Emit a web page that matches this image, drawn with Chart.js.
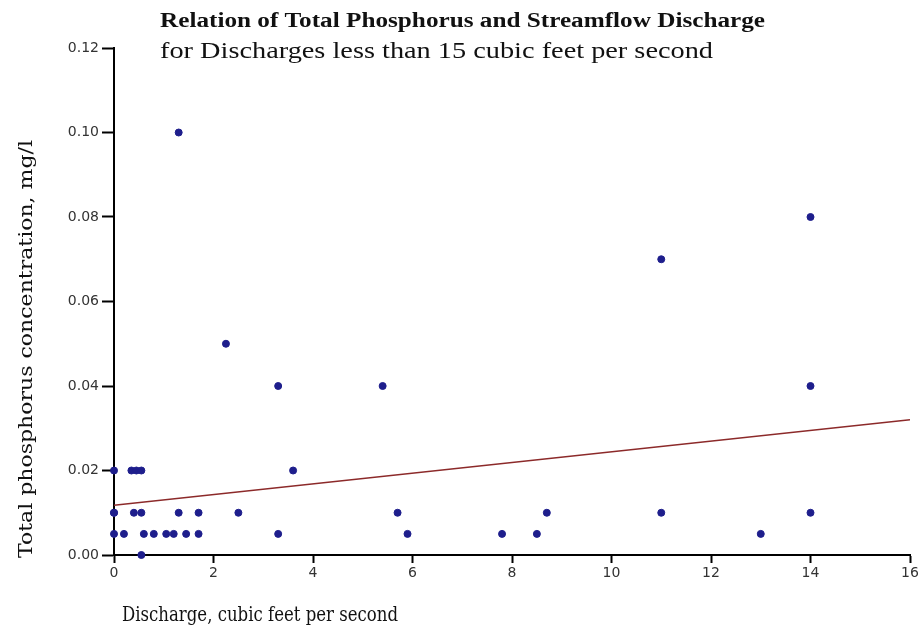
<!DOCTYPE html>
<html>
<head>
<meta charset="utf-8">
<script src="https://cdn.jsdelivr.net/npm/chart.js@4.4.0/dist/chart.umd.min.js"></script>
<style>
  html, body { margin: 0; background: #fff; }
  #wrap { width: 924px; height: 633px; }
</style>
</head>
<body>
<div id="wrap"><canvas id="grafico"></canvas></div>
<script>
"use strict";

// Amostras: descarga (cfs) e fósforo total (mg/l)
const DESCARGA = [
  1.3, 14, 11, 2.25, 3.3, 5.4, 14,
  0, 0.35, 0.45, 0.55, 3.6,
  0, 0, 0.4, 0.55, 1.3, 1.7, 2.5, 5.7, 8.7, 11, 14,
  0, 0.2, 0.6, 0.8, 1.05, 1.2, 1.45, 1.7, 3.3, 5.9, 7.8, 8.5, 13,
  0.55,
];
const FOSFORO = [
  0.10, 0.08, 0.07, 0.05, 0.04, 0.04, 0.04,
  0.02, 0.02, 0.02, 0.02, 0.02,
  0.01, 0.01, 0.01, 0.01, 0.01, 0.01, 0.01, 0.01, 0.01, 0.01, 0.01,
  0.005, 0.005, 0.005, 0.005, 0.005, 0.005, 0.005, 0.005, 0.005, 0.005, 0.005, 0.005, 0.005,
  0.0,
];

// Reta de regressão (extremos)
const RETA_X = [0, 16];
const RETA_Y = [0.0118, 0.032];

const TICKS_X = [0, 2, 4, 6, 8, 10, 12, 14, 16];
const TICKS_Y = [0, 0.02, 0.04, 0.06, 0.08, 0.10, 0.12];

const TITULO = "Relation of Total Phosphorus and Streamflow Discharge";
const SUBTITULO = "for Discharges less than 15 cubic feet per second";
const TITULO_X = "Discharge, cubic feet per second";
const TITULO_Y = "Total phosphorus concentration, mg/l";

/** Escreve um texto esticado/comprimido até a largura desejada. */
function textoAjustado(ctx, txt, fonte, x, y, largura, vertical) {
  ctx.save();
  ctx.font = fonte;
  ctx.fillStyle = "#111";
  ctx.textAlign = "left";
  ctx.textBaseline = "alphabetic";
  ctx.translate(x, y);
  if (vertical) ctx.rotate(-Math.PI / 2);
  ctx.scale(largura / ctx.measureText(txt).width, 1);
  ctx.fillText(txt, 0, 0);
  ctx.restore();
}

const textos = {
  id: "textos",
  afterDraw(chart) {
    const ctx = chart.ctx;
    textoAjustado(ctx, TITULO, "bold 20px 'Liberation Serif'", 160, 27, 605);
    textoAjustado(ctx, SUBTITULO, "24px 'Liberation Serif'", 160, 58, 553);
    textoAjustado(ctx, TITULO_X, "20px 'DejaVu Serif'", 122, 621, 276);
    textoAjustado(ctx, TITULO_Y, "19px 'DejaVu Serif'", 32, 558, 418, true);
  },
};

const pontos = DESCARGA.map((x, i) => ({ x, y: FOSFORO[i] }));
const reta = RETA_X.map((x, i) => ({ x, y: RETA_Y[i] }));

const eixo = {
  border: { color: "#000", width: 2 },
  grid: { drawOnChartArea: false, color: "#000", tickColor: "#000", tickWidth: 2 },
  ticks: { color: "#333", font: { family: "'DejaVu Sans'", size: 14 } },
};

new Chart(document.getElementById("grafico"), {
  type: "scatter",
  data: {
    datasets: [
      {
        data: pontos,
        backgroundColor: "#1e1e8c",
        borderColor: "#1e1e8c",
        pointRadius: 3.5,
        clip: false,
        order: 1,
      },
      {
        type: "line",
        data: reta,
        borderColor: "#8c2a2a",
        borderWidth: 1.5,
        pointRadius: 0,
        fill: false,
        order: 2,
      },
    ],
  },
  options: {
    responsive: true,
    maintainAspectRatio: false,
    animation: false,
    layout: { padding: { top: 48, right: 14, left: 0, bottom: 0 } },
    plugins: { legend: { display: false }, tooltip: { enabled: false } },
    scales: {
      x: {
        ...eixo,
        type: "linear",
        min: 0,
        max: 16,
        grid: { ...eixo.grid, tickLength: 8 },
        ticks: { ...eixo.ticks, padding: 2, maxRotation: 0 },
        afterBuildTicks: (s) => { s.ticks = TICKS_X.map((v) => ({ value: v })); },
        afterFit: (s) => { s.height = 633 - 555; },
      },
      y: {
        ...eixo,
        type: "linear",
        min: 0,
        max: 0.12,
        grid: { ...eixo.grid, tickLength: 12 },
        ticks: { ...eixo.ticks, padding: 3, callback: (v) => v.toFixed(2) },
        afterBuildTicks: (s) => { s.ticks = TICKS_Y.map((v) => ({ value: v })); },
        afterFit: (s) => { s.width = 114; },
      },
    },
  },
  plugins: [textos],
});
</script>
</body>
</html>
